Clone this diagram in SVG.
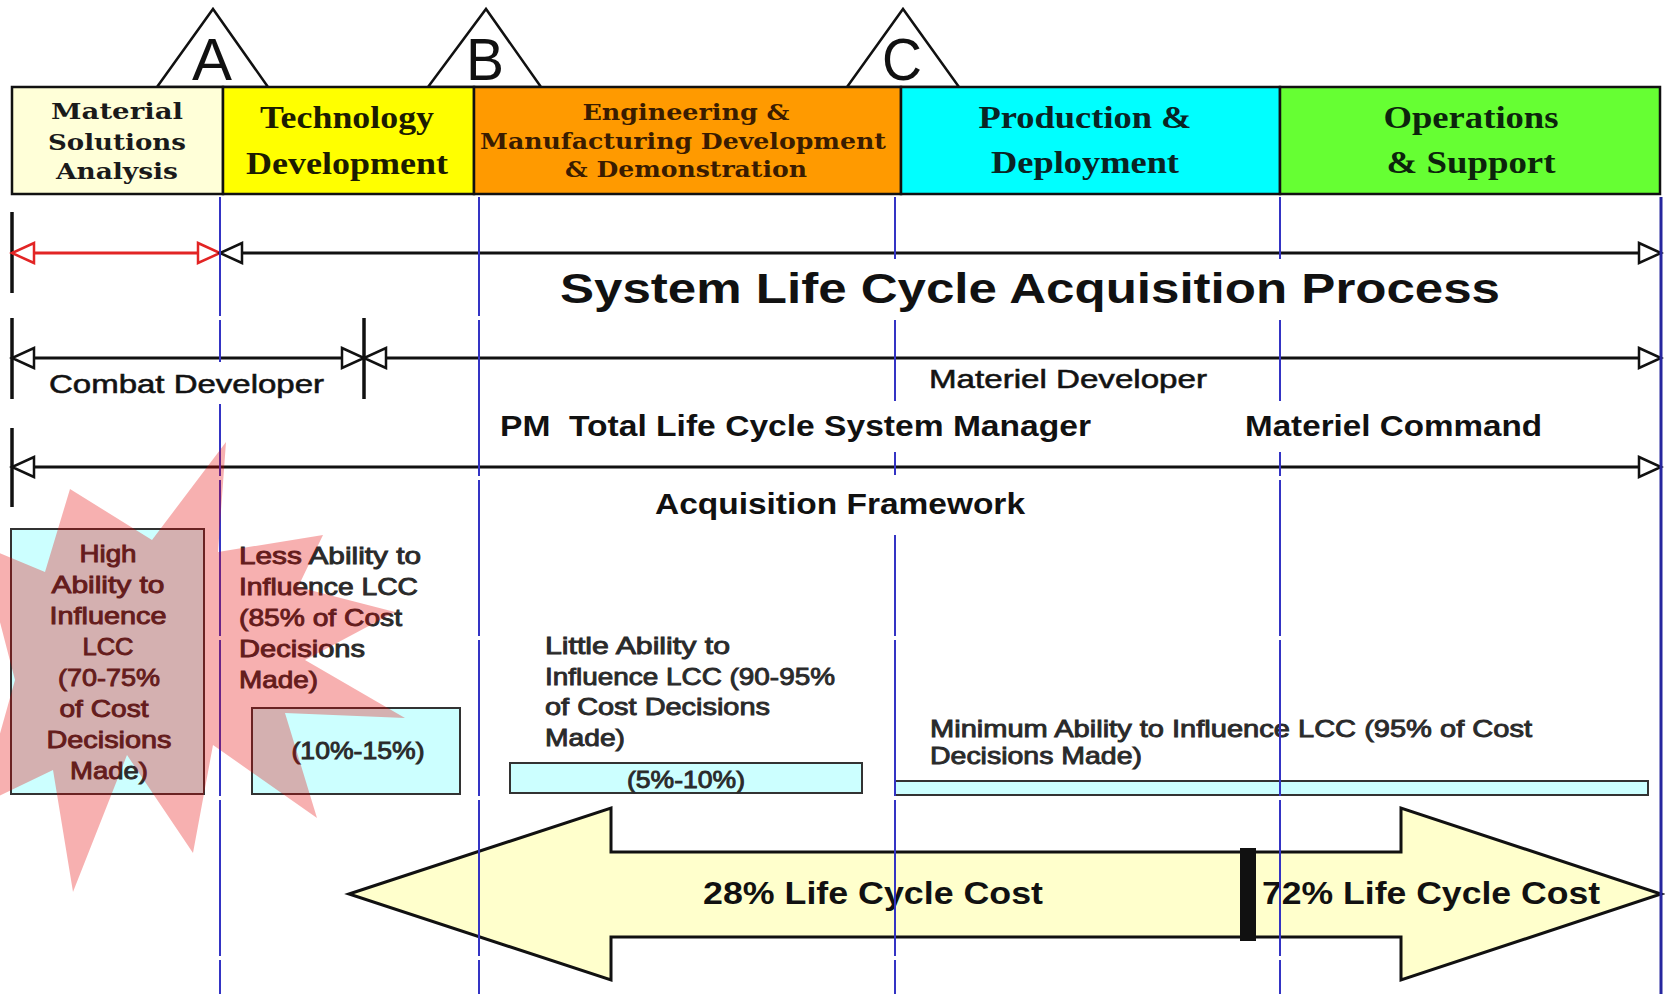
<svg xmlns="http://www.w3.org/2000/svg" width="1665" height="994" viewBox="0 0 1665 994">
  <defs>
    <style>
      .phase { stroke: #111; stroke-width: 2.5; }
      .ser { font-family: "DejaVu Serif", "Liberation Serif", serif; font-weight: bold; }
      .tms { font-family: "Liberation Serif", "Times New Roman", serif; font-weight: bold; }
      .bold { font-weight: bold; }
      .gate { fill: #fff; stroke: #111; stroke-width: 2.5; }
      .gate-t { font-family: "Liberation Sans", Arial, sans-serif; font-size: 60px; fill: #111; text-anchor: middle; }
      .span { stroke: #111; stroke-width: 3; fill: none; }
      .span-red { stroke: #E22424; stroke-width: 3; fill: none; }
      .tick { stroke: #111; stroke-width: 3.5; }
      .mile { stroke: #3434C4; stroke-width: 2; stroke-dasharray: 156 4; stroke-dashoffset: 37; fill: none; }
      .mile-end { stroke: #26269E; stroke-width: 3; fill: none; }
      .mask { fill: #fff; }
      .lcc { fill: #CCFFFF; stroke: #333; stroke-width: 2; }
      .note { font-family: "Liberation Sans", Arial, sans-serif; font-size: 24px; fill: #2a2a2a; stroke: #2a2a2a; stroke-width: 0.9; }
      .cost { font-family: "Liberation Sans", Arial, sans-serif; font-size: 32px; font-weight: bold; fill: #111; }
      .lbl { font-family: "Liberation Sans", Arial, sans-serif; fill: #111; }
      .lbl-med { stroke: #1a1a1a; stroke-width: 0.6; }
    </style>
    <marker id="hb" markerUnits="userSpaceOnUse" viewBox="-3 -3 28 26" markerWidth="28" markerHeight="26" refX="22" refY="10" orient="auto-start-reverse">
      <path d="M0,0 L22,10 L0,20 Z" fill="#fff" stroke="#111" stroke-width="2.5"/>
    </marker>
    <marker id="hr" markerUnits="userSpaceOnUse" viewBox="-3 -3 28 26" markerWidth="28" markerHeight="26" refX="22" refY="10" orient="auto-start-reverse">
      <path d="M0,0 L22,10 L0,20 Z" fill="#fff" stroke="#E22424" stroke-width="2.5"/>
    </marker>
  </defs>

  <rect width="1665" height="994" fill="#fff"/>

  <!-- milestone gates -->
  <g id="gate-a">
    <polygon class="gate" points="157,87 213,9 268,87"/>
    <text class="gate-t" x="212" y="80" textLength="40" lengthAdjust="spacingAndGlyphs">A</text>
  </g>
  <g id="gate-b">
    <polygon class="gate" points="428,87 486,9 541,87"/>
    <text class="gate-t" x="485" y="80" textLength="38" lengthAdjust="spacingAndGlyphs">B</text>
  </g>
  <g id="gate-c">
    <polygon class="gate" points="847,87 903,9 959,87"/>
    <text class="gate-t" x="902" y="80" textLength="40" lengthAdjust="spacingAndGlyphs">C</text>
  </g>

  <!-- phase bar -->
  <g id="phase-msa">
    <rect class="phase" x="12" y="87" width="211" height="107" fill="#FFFFD8"/>
    <text class="ser" font-size="22" fill="#1a1a1a" text-anchor="middle" x="117" y="119" textLength="132" lengthAdjust="spacingAndGlyphs">Material</text>
    <text class="ser" font-size="22" fill="#1a1a1a" text-anchor="middle" x="117" y="150" textLength="138" lengthAdjust="spacingAndGlyphs">Solutions</text>
    <text class="ser" font-size="22" fill="#1a1a1a" text-anchor="middle" x="117" y="179" textLength="122" lengthAdjust="spacingAndGlyphs">Analysis</text>
  </g>
  <g id="phase-td">
    <rect class="phase" x="223" y="87" width="251" height="107" fill="#FFFF00"/>
    <text class="tms" font-size="31" fill="#1c1c00" text-anchor="middle" x="347" y="128" textLength="174" lengthAdjust="spacingAndGlyphs">Technology</text>
    <text class="tms" font-size="31" fill="#1c1c00" text-anchor="middle" x="347" y="174" textLength="202" lengthAdjust="spacingAndGlyphs">Development</text>
  </g>
  <g id="phase-emd">
    <rect class="phase" x="474" y="87" width="427" height="107" fill="#FF9A00"/>
    <text class="ser" font-size="22" fill="#3a1c00" text-anchor="middle" x="686" y="120" textLength="207" lengthAdjust="spacingAndGlyphs">Engineering &amp;</text>
    <text class="ser" font-size="22" fill="#3a1c00" text-anchor="middle" x="683" y="149" textLength="406" lengthAdjust="spacingAndGlyphs">Manufacturing Development</text>
    <text class="ser" font-size="22" fill="#3a1c00" text-anchor="middle" x="686" y="177" textLength="242" lengthAdjust="spacingAndGlyphs">&amp; Demonstration</text>
  </g>
  <g id="phase-pd">
    <rect class="phase" x="901" y="87" width="379" height="107" fill="#00FFFF"/>
    <text class="tms" font-size="31" fill="#0a2424" text-anchor="middle" x="1085" y="128" textLength="213" lengthAdjust="spacingAndGlyphs">Production &amp;</text>
    <text class="tms" font-size="31" fill="#0a2424" text-anchor="middle" x="1085" y="173" textLength="188" lengthAdjust="spacingAndGlyphs">Deployment</text>
  </g>
  <g id="phase-os">
    <rect class="phase" x="1280" y="87" width="380" height="107" fill="#66FF33"/>
    <text class="tms" font-size="31" fill="#0c240c" text-anchor="middle" x="1471" y="128" textLength="175" lengthAdjust="spacingAndGlyphs">Operations</text>
    <text class="tms" font-size="31" fill="#0c240c" text-anchor="middle" x="1471" y="173" textLength="169" lengthAdjust="spacingAndGlyphs">&amp; Support</text>
  </g>

  <!-- life cycle cost split arrow -->
  <g id="cost-arrow">
    <polygon points="349,894 611,808 611,852 1401,852 1401,808 1661,894 1401,980 1401,937 611,937 611,980" fill="#FFFFCC" stroke="#111" stroke-width="3" stroke-linejoin="miter"/>
    <rect x="1240" y="848" width="16" height="93" fill="#111"/>
    <text class="cost" x="703" y="904" textLength="340" lengthAdjust="spacingAndGlyphs">28% Life Cycle Cost</text>
    <text class="cost" x="1262" y="904" textLength="338" lengthAdjust="spacingAndGlyphs">72% Life Cycle Cost</text>
  </g>

  <!-- ability to influence LCC -->
  <g id="lcc-high">
    <rect class="lcc" x="11" y="529" width="193" height="265"/>
    <text class="note" text-anchor="middle" x="108" y="562" textLength="57" lengthAdjust="spacingAndGlyphs">High</text>
    <text class="note" text-anchor="middle" x="108" y="593" textLength="113" lengthAdjust="spacingAndGlyphs">Ability to</text>
    <text class="note" text-anchor="middle" x="108" y="624" textLength="117" lengthAdjust="spacingAndGlyphs">Influence</text>
    <text class="note" text-anchor="middle" x="108" y="655" textLength="51" lengthAdjust="spacingAndGlyphs">LCC</text>
    <text class="note" text-anchor="middle" x="109" y="686" textLength="102" lengthAdjust="spacingAndGlyphs">(70-75%</text>
    <text class="note" text-anchor="middle" x="104" y="717" textLength="89" lengthAdjust="spacingAndGlyphs">of Cost</text>
    <text class="note" text-anchor="middle" x="109" y="748" textLength="125" lengthAdjust="spacingAndGlyphs">Decisions</text>
    <text class="note" text-anchor="middle" x="109" y="779" textLength="78" lengthAdjust="spacingAndGlyphs">Made)</text>
  </g>
  <g id="lcc-less">
    <text class="note" x="239" y="564" textLength="182" lengthAdjust="spacingAndGlyphs">Less Ability to</text>
    <text class="note" x="239" y="595" textLength="179" lengthAdjust="spacingAndGlyphs">Influence LCC</text>
    <text class="note" x="239" y="626" textLength="163" lengthAdjust="spacingAndGlyphs">(85% of Cost</text>
    <text class="note" x="239" y="657" textLength="126" lengthAdjust="spacingAndGlyphs">Decisions</text>
    <text class="note" x="239" y="688" textLength="79" lengthAdjust="spacingAndGlyphs">Made)</text>
    <rect class="lcc" x="252" y="708" width="208" height="86"/>
    <text class="note" text-anchor="middle" x="358" y="759" textLength="133" lengthAdjust="spacingAndGlyphs">(10%-15%)</text>
  </g>
  <g id="lcc-little">
    <text class="note" x="545" y="654" textLength="185" lengthAdjust="spacingAndGlyphs">Little Ability to</text>
    <text class="note" x="545" y="685" textLength="290" lengthAdjust="spacingAndGlyphs">Influence LCC (90-95%</text>
    <text class="note" x="545" y="715" textLength="225" lengthAdjust="spacingAndGlyphs">of Cost Decisions</text>
    <text class="note" x="545" y="746" textLength="80" lengthAdjust="spacingAndGlyphs">Made)</text>
    <rect class="lcc" x="510" y="763" width="352" height="30"/>
    <text class="note" font-size="23" text-anchor="middle" x="686" y="788" textLength="118" lengthAdjust="spacingAndGlyphs">(5%-10%)</text>
  </g>
  <g id="lcc-minimum">
    <text class="note" x="930" y="737" textLength="602" lengthAdjust="spacingAndGlyphs">Minimum Ability to Influence LCC (95% of Cost</text>
    <text class="note" x="930" y="764" textLength="212" lengthAdjust="spacingAndGlyphs">Decisions Made)</text>
    <rect class="lcc" x="895" y="781" width="753" height="14"/>
  </g>

  <!-- span connectors -->
  <g id="connectors">
    <line class="tick" x1="12" y1="212" x2="12" y2="293"/>
    <line class="tick" x1="12" y1="318" x2="12" y2="399"/>
    <line class="tick" x1="364" y1="318" x2="364" y2="399"/>
    <line class="tick" x1="12" y1="428" x2="12" y2="507"/>
    <line class="span-red" x1="12" y1="253" x2="220" y2="253" marker-start="url(#hr)" marker-end="url(#hr)"/>
    <line class="span" x1="220" y1="253" x2="1661" y2="253" marker-start="url(#hb)" marker-end="url(#hb)"/>
    <line class="span" x1="12" y1="358" x2="364" y2="358" marker-start="url(#hb)" marker-end="url(#hb)"/>
    <line class="span" x1="364" y1="358" x2="1661" y2="358" marker-start="url(#hb)" marker-end="url(#hb)"/>
    <line class="span" x1="12" y1="467" x2="1661" y2="467" marker-start="url(#hb)" marker-end="url(#hb)"/>
  </g>

  <!-- milestone guide lines -->
  <g id="milestone-lines">
    <line class="mile" x1="220" y1="197" x2="220" y2="994"/>
    <line class="mile" x1="479" y1="197" x2="479" y2="994"/>
    <line class="mile" x1="895" y1="197" x2="895" y2="994"/>
    <line class="mile" x1="1280" y1="197" x2="1280" y2="994"/>
    <line class="mile-end" x1="1661" y1="197" x2="1661" y2="994"/>
  </g>

  <!-- span labels -->
  <g id="label-process">
    <rect class="mask" x="555" y="259" width="950" height="60"/>
    <text class="lbl bold" font-size="43" x="560" y="303" textLength="940" lengthAdjust="spacingAndGlyphs">System Life Cycle Acquisition Process</text>
  </g>
  <g id="label-combat">
    <rect class="mask" x="40" y="362" width="290" height="42"/>
    <text class="lbl lbl-med" font-size="26" x="49" y="393" textLength="275" lengthAdjust="spacingAndGlyphs">Combat Developer</text>
  </g>
  <g id="label-materiel-dev">
    <text class="lbl lbl-med" font-size="26" fill="#222" x="929" y="388" textLength="278" lengthAdjust="spacingAndGlyphs">Materiel Developer</text>
  </g>
  <g id="label-pm">
    <rect class="mask" x="490" y="401" width="615" height="51"/>
    <text class="lbl bold" font-size="29" x="500" y="436" textLength="591" lengthAdjust="spacingAndGlyphs" xml:space="preserve">PM  Total Life Cycle System Manager</text>
  </g>
  <g id="label-command">
    <rect class="mask" x="1235" y="401" width="330" height="51"/>
    <text class="lbl bold" font-size="29" x="1245" y="436" textLength="297" lengthAdjust="spacingAndGlyphs">Materiel Command</text>
  </g>
  <g id="label-framework">
    <rect class="mask" x="635" y="475" width="410" height="60"/>
    <text class="lbl bold" font-size="29" x="655" y="514" textLength="370" lengthAdjust="spacingAndGlyphs">Acquisition Framework</text>
  </g>

  <!-- highlight burst over the early-decision region -->
  <g id="burst">
    <polygon fill="#E50000" fill-opacity="0.31" points="70,489 152,540 226,442 218,552 323,535 298,587 395,612 305,660 405,718 285,713 317,818 213,745 193,853 127,755 73,892 53,770 -20,805 15,680 -20,545 45,572"/>
  </g>
</svg>
